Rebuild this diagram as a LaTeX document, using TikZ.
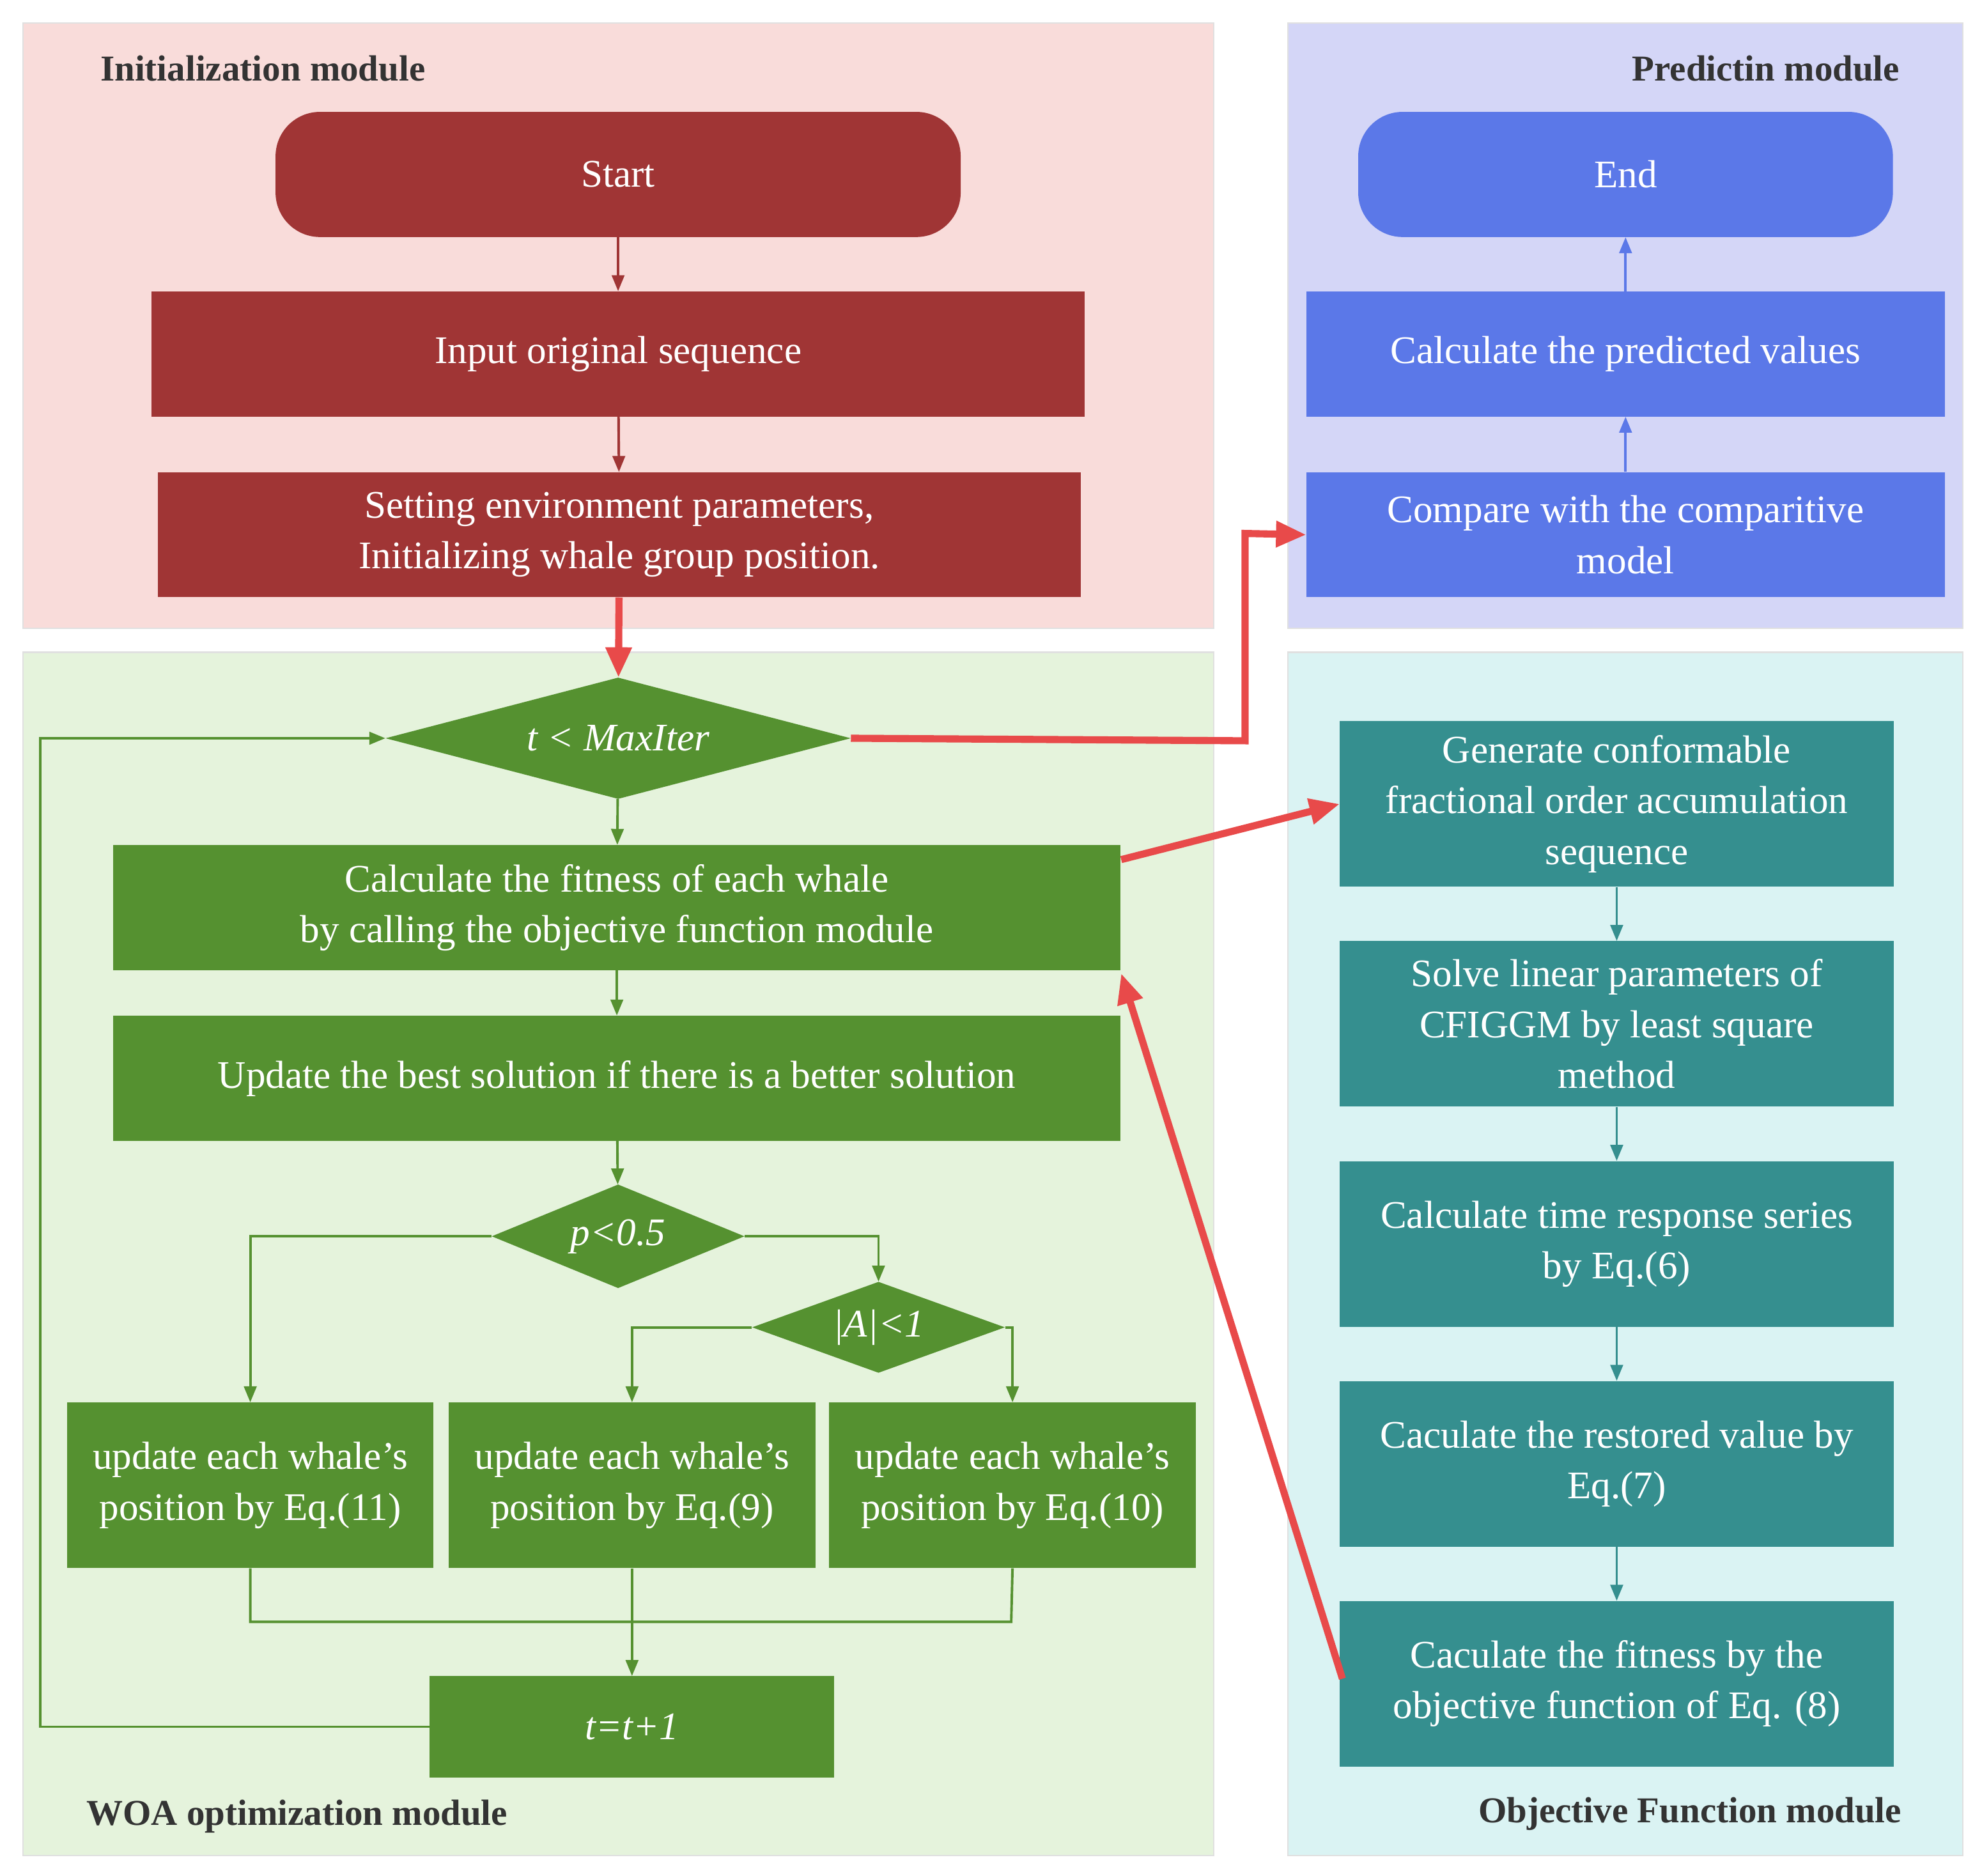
\documentclass[tikz,border=0pt]{standalone}
\usepackage{fontspec}
\setmainfont{Liberation Serif}
\usetikzlibrary{shapes.geometric,arrows.meta,calc}
\definecolor{initbg}{HTML}{F9DCDA}\definecolor{predbg}{HTML}{D4D6F7}
\definecolor{woabg}{HTML}{E5F3DC}\definecolor{objbg}{HTML}{DAF3F3}
\definecolor{initc}{HTML}{A03535}\definecolor{predc}{HTML}{5B78E8}
\definecolor{woac}{HTML}{559130}\definecolor{objc}{HTML}{358F8F}
\definecolor{redc}{HTML}{E84A4A}\definecolor{titc}{HTML}{333333}
\begin{document}
\begin{tikzpicture}[x=0.05cm,y=-0.05cm,
  panel/.style={draw=black!12,line width=1.5pt},
  box/.style={draw=none,text=white,align=center,inner sep=0pt,font=\fontsize{44}{57}\selectfont},
  dia/.style={diamond,aspect=3.8,draw=none,fill=woac,text=white,inner sep=0pt,font=\fontsize{44}{57}\selectfont\itshape},
  title/.style={font=\fontsize{41}{50}\selectfont\bfseries,text=titc},
  ia/.style={-{Triangle[length=18pt,width=14pt]},line width=2.8pt,draw=initc},
  pa/.style={-{Triangle[length=18pt,width=14pt]},line width=2.8pt,draw=predc},
  wa/.style={-{Triangle[length=18pt,width=14pt]},line width=2.8pt,draw=woac},
  wl/.style={line width=2.8pt,draw=woac},
  oa/.style={-{Triangle[length=18pt,width=14pt]},line width=2.8pt,draw=objc},
  ra/.style={-{Triangle[length=34pt,width=28pt]},line width=8pt,draw=redc}]
\useasboundingbox (0,0) rectangle (1568,1484);
% panels
\fill[white] (0,0) rectangle (1568,1484);
\draw[panel,fill=initbg] (18,18) rectangle (960,497);
\draw[panel,fill=predbg] (1019,18) rectangle (1553,497);
\draw[panel,fill=woabg] (18,516) rectangle (960,1468);
\draw[panel,fill=objbg] (1019,516) rectangle (1553,1468);
\node[title] (t1) at (208,54) {Initialization module};
\node[title] (t2) at (1397,54) {Predictin module};
\node[title] (t3) at (235,1437) {WOA optimization module};
\node[title] (t4) at (1337,1435) {Objective Function module};
% init
\node[box,fill=initc,rounded corners=50pt,minimum width=542*0.05cm,minimum height=99*0.05cm] (start) at (489,138) {Start};
\node[box,fill=initc,minimum width=738*0.05cm,minimum height=99*0.05cm] (input) at (489,280) {Input original sequence};
\node[box,fill=initc,minimum width=730*0.05cm,minimum height=99*0.05cm] (set) at (490,423) {Setting environment parameters,\\Initializing whale group position.};
% pred
\node[box,fill=predc,rounded corners=50pt,minimum width=423*0.05cm,minimum height=99*0.05cm] (end) at (1286,138) {End};
\node[box,fill=predc,minimum width=505*0.05cm,minimum height=99*0.05cm] (cpred) at (1286,280) {Calculate the predicted values};
\node[box,fill=predc,minimum width=505*0.05cm,minimum height=99*0.05cm] (cmp) at (1286,423) {Compare with the comparitive\\model};
% woa
\node[dia,minimum width=368*0.05cm,minimum height=96*0.05cm] (d1) at (489,584) {t < MaxIter};
\node[box,fill=woac,minimum width=797*0.05cm,minimum height=99*0.05cm] (fit) at (488,718) {Calculate the fitness of each whale\\by calling the objective function module};
\node[box,fill=woac,minimum width=797*0.05cm,minimum height=99*0.05cm] (best) at (488,853) {Update the best solution if there is a better solution};
\node[dia,minimum width=200*0.05cm,minimum height=82*0.05cm] (d2) at (489,978) {p<0.5};
\node[dia,minimum width=200*0.05cm,minimum height=72*0.05cm] (d3) at (695,1050) {|A|<1};
\node[box,fill=woac,minimum width=290*0.05cm,minimum height=131*0.05cm] (b1) at (198,1175) {update each whale's\\position by Eq.(11)};
\node[box,fill=woac,minimum width=290*0.05cm,minimum height=131*0.05cm] (b2) at (500,1175) {update each whale's\\position by Eq.(9)};
\node[box,fill=woac,minimum width=290*0.05cm,minimum height=131*0.05cm] (b3) at (801,1175) {update each whale's\\position by Eq.(10)};
\node[box,fill=woac,minimum width=320*0.05cm,minimum height=80*0.05cm,font=\fontsize{44}{57}\selectfont\itshape] (inc) at (500,1366) {t=t+1};
% obj
\node[box,fill=objc,minimum width=438*0.05cm,minimum height=131*0.05cm] (o1) at (1279,636) {Generate conformable\\fractional order accumulation\\sequence};
\node[box,fill=objc,minimum width=438*0.05cm,minimum height=131*0.05cm] (o2) at (1279,810) {Solve linear parameters of\\CFIGGM by least square\\method};
\node[box,fill=objc,minimum width=438*0.05cm,minimum height=131*0.05cm] (o3) at (1279,984) {Calculate time response series\\by Eq.(6)};
\node[box,fill=objc,minimum width=438*0.05cm,minimum height=131*0.05cm] (o4) at (1279,1158) {Caculate the restored value by\\Eq.(7)};
\node[box,fill=objc,minimum width=438*0.05cm,minimum height=131*0.05cm] (o5) at (1279,1332) {Caculate the fitness by the\\objective function of Eq. (8)};
% arrows
\draw[ia] (start) -- (input);
\draw[ia] (input) -- (set);
\draw[pa] (cmp) -- (cpred);
\draw[pa] (cpred) -- (end);
\draw[wa] (d1) -- (fit);
\draw[wa] (fit) -- (best);
\draw[wa] (best) -- (d2);
\draw[wa] (d2.west) -| (b1.north);
\draw[wa] (d2.east) -| (d3.north);
\draw[wa] (d3.west) -| (b2.north);
\draw[wa] (d3.east) -| (b3.north);
\draw[wl] (b1.south) |- (800,1283) -- (b3.south);
\draw[wa] (b2.south) -- (inc.north);
\draw[wa] (inc.west) -- (32,1366) -- (32,584) -- (d1.west);
\draw[oa] (o1) -- (o2);
\draw[oa] (o2) -- (o3);
\draw[oa] (o3) -- (o4);
\draw[oa] (o4) -- (o5);
\draw[ra] (set) -- (d1);
\draw[ra] (d1.east) -- (985,586) -- (985,422) -- (cmp.west);
\draw[ra] (887,680) -- (o1.west);
\draw[ra] (1062,1328) -- (887,770);
\end{tikzpicture}
\end{document}
